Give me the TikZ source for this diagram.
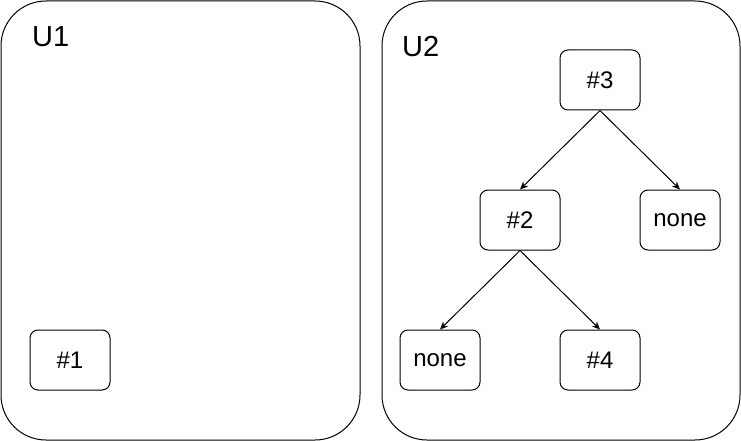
\documentclass[tikz,border=0pt]{standalone}
\usepackage{fontspec}
\setmainfont{Liberation Sans}
\usetikzlibrary{arrows.meta, positioning}

\begin{document}
\begin{tikzpicture}[x=1pt, y=-1pt,
  cont/.style={draw, rounded corners=45pt, line width=1pt},
  tnode/.style={draw, line width=1pt, rounded corners=8pt, minimum width=80pt, minimum height=60pt, inner sep=0pt, font=\fontsize{24}{28}\selectfont},
  ulabel/.style={anchor=base west, inner sep=0pt, font=\fontsize{29}{34}\selectfont},
  edge/.style={-{Stealth[length=8pt, width=7pt]}, line width=1pt}]
\useasboundingbox (0,0) rectangle (741,441);
\draw[cont] (1,1) rectangle (360,440);
\draw[cont] (382,1) rectangle (740,440);
\node[ulabel] (U1) at (32,47) {U1};
\node[ulabel] (U2) at (402,57) {U2};

\node[tnode] (n1) at (70,360) {\#1};
\node[tnode] (n3) at (600,80) {\#3};
\node[tnode] (n2) at (520,220) {\#2};
\node[tnode] (noneR) at (680,220) {none};
\node[tnode] (noneL) at (440,360) {none};
\node[tnode] (n4) at (600,360) {\#4};

\draw[edge] (n3.south) -- (n2.north);
\draw[edge] (n3.south) -- (noneR.north);
\draw[edge] (n2.south) -- (noneL.north);
\draw[edge] (n2.south) -- (n4.north);

\end{tikzpicture}
\end{document}
